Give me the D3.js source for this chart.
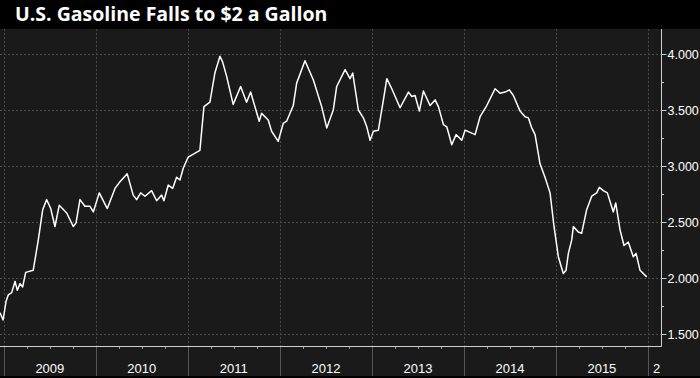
<!DOCTYPE html>
<html>
<head>
<meta charset="utf-8">
<script src="https://cdn.jsdelivr.net/npm/d3@7"></script>
<style>
  html, body { margin: 0; padding: 0; background: #000; }
  svg { display: block; }
</style>
</head>
<body>
<script>
const title = "U.S. Gasoline Falls to $2 a Gallon";

// decimal year of each reading
const when = [
  2008.957, 2008.99, 2009.022, 2009.047, 2009.084, 2009.12, 2009.145, 2009.174, 2009.203, 2009.236,
  2009.318, 2009.373, 2009.421, 2009.464, 2009.508, 2009.554, 2009.601, 2009.682, 2009.753, 2009.783,
  2009.826, 2009.88, 2009.935, 2009.971, 2010.036, 2010.123, 2010.207, 2010.261, 2010.34, 2010.405,
  2010.442, 2010.486, 2010.533, 2010.605, 2010.66, 2010.714, 2010.739, 2010.786, 2010.834, 2010.877,
  2010.913, 2010.949, 2011.003, 2011.13, 2011.174, 2011.239, 2011.293, 2011.348, 2011.377, 2011.421,
  2011.492, 2011.573, 2011.638, 2011.682, 2011.775, 2011.801, 2011.873, 2011.91, 2011.982, 2012.036,
  2012.073, 2012.145, 2012.182, 2012.272, 2012.362, 2012.453, 2012.508, 2012.579, 2012.616, 2012.707,
  2012.761, 2012.79, 2012.851, 2012.905, 2012.942, 2012.978, 2013.014, 2013.068, 2013.123, 2013.16,
  2013.214, 2013.304, 2013.395, 2013.432, 2013.467, 2013.514, 2013.558, 2013.63, 2013.685, 2013.721,
  2013.775, 2013.812, 2013.866, 2013.913, 2013.975, 2014.011, 2014.12, 2014.174, 2014.247, 2014.337,
  2014.391, 2014.446, 2014.492, 2014.536, 2014.609, 2014.663, 2014.699, 2014.736, 2014.772, 2014.826,
  2014.88, 2014.935, 2014.978, 2015.025, 2015.079, 2015.109, 2015.134, 2015.171, 2015.188, 2015.242,
  2015.279, 2015.333, 2015.388, 2015.442, 2015.471, 2015.514, 2015.558, 2015.623, 2015.649, 2015.696,
  2015.739, 2015.786, 2015.84, 2015.87, 2015.913, 2015.986
];
// average price, $ per gallon
const price = [
  1.69, 1.625, 1.79, 1.85, 1.87, 1.97, 1.89, 1.95, 1.92, 2.05,
  2.07, 2.34, 2.61, 2.70, 2.62, 2.46, 2.65, 2.58, 2.46, 2.49,
  2.70, 2.64, 2.64, 2.59, 2.76, 2.62, 2.80, 2.86, 2.93, 2.74,
  2.70, 2.76, 2.73, 2.78, 2.69, 2.74, 2.69, 2.83, 2.80, 2.90,
  2.875, 2.98, 3.08, 3.14, 3.53, 3.57, 3.83, 3.98, 3.93, 3.80,
  3.55, 3.71, 3.57, 3.66, 3.40, 3.47, 3.41, 3.31, 3.22, 3.38,
  3.40, 3.54, 3.74, 3.94, 3.77, 3.53, 3.34, 3.50, 3.71, 3.86,
  3.78, 3.83, 3.50, 3.43, 3.35, 3.23, 3.31, 3.32, 3.59, 3.78,
  3.69, 3.52, 3.66, 3.62, 3.63, 3.49, 3.67, 3.54, 3.59, 3.53,
  3.37, 3.35, 3.19, 3.28, 3.23, 3.32, 3.28, 3.44, 3.54, 3.69,
  3.65, 3.66, 3.68, 3.63, 3.49, 3.44, 3.43, 3.34, 3.28, 3.02,
  2.90, 2.76, 2.46, 2.19, 2.04, 2.07, 2.22, 2.34, 2.46, 2.41,
  2.40, 2.61, 2.73, 2.76, 2.81, 2.78, 2.76, 2.59, 2.67, 2.43,
  2.29, 2.32, 2.19, 2.22, 2.07, 2.01
];
const years = [2009, 2010, 2011, 2012, 2013, 2014, 2015, 2016];
const priceTicks = [1.5, 2, 2.5, 3, 3.5, 4];
const minorTicks = [1.75, 2.25, 2.75, 3.25, 3.75];

const width = 700, height = 378;
const plotTop = 29, axisX = 661, axisY = 346, plotBottom = 376;

function toDate(yv) {
  const yr = Math.floor(yv);
  const a = new Date(yr, 0, 1), b = new Date(yr + 1, 0, 1);
  return new Date(+a + (yv - yr) * (b - a));
}

const data = when.map((w, i) => ({date: toDate(w), value: price[i]}));

const x = d3.scaleTime()
  .domain([new Date(2009, 0, 1), new Date(2016, 0, 1)])
  .range([4, 648]);
const y = d3.scaleLinear().domain([1.5, 4]).range([334, 54]);

const svg = d3.select("body").append("svg")
  .attr("width", width).attr("height", height)
  .attr("viewBox", `0 0 ${width} ${height}`)
  .style("font-family", "'Liberation Sans', Arial, sans-serif");

svg.append("rect").attr("width", width).attr("height", height).attr("fill", "#000");
svg.append("rect").attr("x", 0).attr("y", plotTop).attr("width", width).attr("height", plotBottom - plotTop).attr("fill", "#1a1a1a");

svg.append("text")
  .attr("x", 15).attr("y", 21)
  .attr("fill", "#fff")
  .attr("font-family", "'Open Sans', 'DejaVu Sans', sans-serif")
  .attr("font-weight", "bold")
  .attr("font-size", 19.5)
  .text(title);

const defs = svg.append("defs");
defs.append("clipPath").attr("id", "plot")
  .append("rect").attr("x", 0).attr("y", plotTop).attr("width", axisX).attr("height", axisY - plotTop);
defs.append("clipPath").attr("id", "xlab")
  .append("rect").attr("x", 0).attr("y", axisY).attr("width", 660).attr("height", plotBottom - axisY);

// grid
svg.append("g").selectAll("line").data(priceTicks).join("line")
  .attr("x1", 0).attr("x2", axisX)
  .attr("y1", d => Math.round(y(d)) + 0.5).attr("y2", d => Math.round(y(d)) + 0.5)
  .attr("stroke", "#4a4a4a").attr("stroke-dasharray", "2,2");

svg.append("g").selectAll("line").data(years).join("line")
  .attr("x1", d => Math.round(x(new Date(d, 0, 1))) + 0.5)
  .attr("x2", d => Math.round(x(new Date(d, 0, 1))) + 0.5)
  .attr("y1", plotTop).attr("y2", axisY)
  .attr("stroke", "#4a4a4a").attr("stroke-dasharray", "2,2");

// year separators under the axis
svg.append("g").selectAll("line").data(years).join("line")
  .attr("x1", d => Math.round(x(new Date(d, 0, 1))) + 0.5)
  .attr("x2", d => Math.round(x(new Date(d, 0, 1))) + 0.5)
  .attr("y1", axisY).attr("y2", plotBottom)
  .attr("stroke", "#555");

// quarter ticks
const quarters = d3.timeMonth.every(3).range(new Date(2009, 0, 1), new Date(2016, 0, 1))
  .filter(d => d.getMonth() !== 0);
svg.append("g").selectAll("line").data(quarters).join("line")
  .attr("x1", d => Math.round(x(d)) + 0.5).attr("x2", d => Math.round(x(d)) + 0.5)
  .attr("y1", axisY).attr("y2", axisY + 3)
  .attr("stroke", "#999");

// line
const line = d3.line().x(d => x(d.date)).y(d => y(d.value));
svg.append("path")
  .datum(data)
  .attr("clip-path", "url(#plot)")
  .attr("d", line)
  .attr("fill", "none")
  .attr("stroke", "#fff")
  .attr("stroke-width", 1.5)
  .attr("stroke-linejoin", "round");

// axis frame
svg.append("path")
  .attr("d", `M0,${axisY + 0.5}H${axisX + 0.5}V${plotTop}`)
  .attr("fill", "none").attr("stroke", "#cfcfcf");

// right axis
const yAxis = svg.append("g").attr("transform", `translate(${axisX + 0.5},0)`);
yAxis.call(d3.axisRight(y).tickValues(priceTicks).tickSize(5).tickPadding(1).tickFormat(d3.format(".3f")));
yAxis.select(".domain").remove();
yAxis.selectAll(".tick line").attr("stroke", "#cfcfcf");
yAxis.selectAll(".tick text")
  .attr("fill", "#fff")
  .attr("font-family", "'Liberation Sans', Arial, sans-serif")
  .attr("font-size", 12.5);

svg.append("g").selectAll("line").data(minorTicks).join("line")
  .attr("x1", axisX).attr("x2", axisX + 3)
  .attr("y1", d => Math.round(y(d)) + 0.5).attr("y2", d => Math.round(y(d)) + 0.5)
  .attr("stroke", "#cfcfcf");

// year labels
svg.append("g").attr("clip-path", "url(#xlab)")
  .selectAll("text").data(years).join("text")
  .attr("x", d => d === 2016 ? 653 : x(new Date(d, 6, 2)))
  .attr("y", 373)
  .attr("text-anchor", d => d === 2016 ? "start" : "middle")
  .attr("fill", "#fff")
  .attr("font-size", 13)
  .text(d => d);
</script>
</body>
</html>
